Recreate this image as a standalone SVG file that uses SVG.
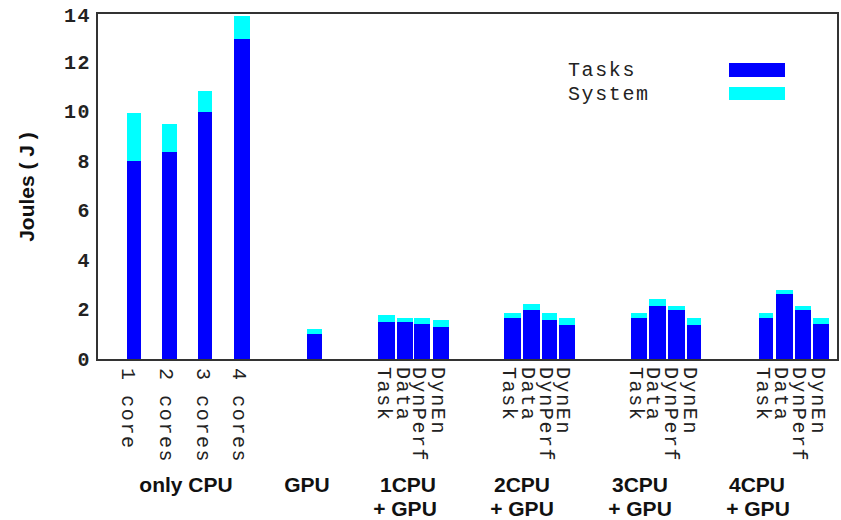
<svg xmlns="http://www.w3.org/2000/svg" width="841" height="520" viewBox="0 0 841 520">
<style>
.t{fill:#0000ff}
.s{fill:#00ffff}
.mono{font-family:"Liberation Mono","DejaVu Sans Mono",monospace;font-size:20px;letter-spacing:1.6px;fill:#222}
.tick{font-family:"Liberation Mono","DejaVu Sans Mono",monospace;font-size:20px;font-weight:bold;letter-spacing:1.5px;fill:#222;text-anchor:end}
.sans{font-family:"Liberation Sans",Arial,sans-serif;font-size:21px;font-weight:bold;fill:#111;text-anchor:middle}
</style>
<rect width="841" height="520" fill="#fff"/>
<g id="bars">
<g id="only-cpu">
<rect class="s" x="127" y="113" width="14" height="48"/><rect class="t" x="127" y="161" width="14" height="199"/>
<rect class="s" x="162" y="124" width="15" height="28"/><rect class="t" x="162" y="152" width="15" height="208"/>
<rect class="s" x="198" y="91" width="14" height="21"/><rect class="t" x="198" y="112" width="14" height="248"/>
<rect class="s" x="234" y="16" width="16" height="23"/><rect class="t" x="234" y="39" width="16" height="321"/>
</g>
<g id="gpu">
<rect class="s" x="307" y="329" width="15" height="5"/><rect class="t" x="307" y="334" width="15" height="26"/>
</g>
<g id="cpu1-gpu">
<rect class="s" x="378" y="315" width="17" height="7"/><rect class="t" x="378" y="322" width="17" height="38"/>
<rect class="s" x="397" y="318" width="16" height="4"/><rect class="t" x="397" y="322" width="16" height="38"/>
<rect class="s" x="414" y="318" width="16" height="6"/><rect class="t" x="414" y="324" width="16" height="36"/>
<rect class="s" x="433" y="320" width="16" height="7"/><rect class="t" x="433" y="327" width="16" height="33"/>
</g>
<g id="cpu2-gpu">
<rect class="s" x="504" y="313" width="17" height="5"/><rect class="t" x="504" y="318" width="17" height="42"/>
<rect class="s" x="523" y="304" width="17" height="6"/><rect class="t" x="523" y="310" width="17" height="50"/>
<rect class="s" x="542" y="313" width="15" height="7"/><rect class="t" x="542" y="320" width="15" height="40"/>
<rect class="s" x="559" y="318" width="16" height="7"/><rect class="t" x="559" y="325" width="16" height="35"/>
</g>
<g id="cpu3-gpu">
<rect class="s" x="631" y="313" width="16" height="5"/><rect class="t" x="631" y="318" width="16" height="42"/>
<rect class="s" x="649" y="299" width="17" height="7"/><rect class="t" x="649" y="306" width="17" height="54"/>
<rect class="s" x="668" y="306" width="17" height="4"/><rect class="t" x="668" y="310" width="17" height="50"/>
<rect class="s" x="687" y="318" width="14" height="7"/><rect class="t" x="687" y="325" width="14" height="35"/>
</g>
<g id="cpu4-gpu">
<rect class="s" x="759" y="313" width="14" height="5"/><rect class="t" x="759" y="318" width="14" height="42"/>
<rect class="s" x="776" y="290" width="17" height="4"/><rect class="t" x="776" y="294" width="17" height="66"/>
<rect class="s" x="795" y="306" width="16" height="4"/><rect class="t" x="795" y="310" width="16" height="50"/>
<rect class="s" x="813" y="318" width="16" height="6"/><rect class="t" x="813" y="324" width="16" height="36"/>
</g>
</g>
<g id="frame">
<rect x="97" y="13" width="741" height="347" fill="none" stroke="#333" stroke-width="2"/>
</g>
<g id="y-axis">
<text class="tick" x="91" y="22">14</text>
<text class="tick" x="91" y="69">12</text>
<text class="tick" x="91" y="118">10</text>
<text class="tick" x="91" y="168">8</text>
<text class="tick" x="91" y="217">6</text>
<text class="tick" x="91" y="267">4</text>
<text class="tick" x="91" y="316">2</text>
<text class="tick" x="91" y="366">0</text>
<text class="sans" transform="translate(34,187) rotate(-90)">Joules ( J )</text>
</g>
<g id="legend">
<text class="mono" x="568" y="76">Tasks</text>
<text class="mono" x="568" y="100">System</text>
<rect class="t" x="729" y="63" width="56" height="14"/>
<rect class="s" x="729" y="87" width="56" height="13"/>
</g>
<g id="x-labels">
<text class="mono" transform="translate(122,368) rotate(90)">1 core</text>
<text class="mono" transform="translate(160,368) rotate(90)">2 cores</text>
<text class="mono" transform="translate(197,368) rotate(90)">3 cores</text>
<text class="mono" transform="translate(233,368) rotate(90)">4 cores</text>
<text class="mono" transform="translate(378,367) rotate(90)">Task</text>
<text class="mono" transform="translate(397,367) rotate(90)">Data</text>
<text class="mono" transform="translate(413,367) rotate(90)">DynPerf</text>
<text class="mono" transform="translate(432,367) rotate(90)">DynEn</text>
<text class="mono" transform="translate(503,367) rotate(90)">Task</text>
<text class="mono" transform="translate(522,367) rotate(90)">Data</text>
<text class="mono" transform="translate(540,367) rotate(90)">DynPerf</text>
<text class="mono" transform="translate(557,367) rotate(90)">DynEn</text>
<text class="mono" transform="translate(630,367) rotate(90)">Task</text>
<text class="mono" transform="translate(647,367) rotate(90)">Data</text>
<text class="mono" transform="translate(665,367) rotate(90)">DynPerf</text>
<text class="mono" transform="translate(684,367) rotate(90)">DynEn</text>
<text class="mono" transform="translate(757,367) rotate(90)">Task</text>
<text class="mono" transform="translate(775,367) rotate(90)">Data</text>
<text class="mono" transform="translate(793,367) rotate(90)">DynPerf</text>
<text class="mono" transform="translate(812,367) rotate(90)">DynEn</text>
</g>
<g id="group-labels">
<text class="sans" x="186" y="492">only CPU</text>
<text class="sans" x="307" y="492">GPU</text>
<text class="sans" x="408" y="492">1CPU</text>
<text class="sans" x="405" y="516">+ GPU</text>
<text class="sans" x="522" y="492">2CPU</text>
<text class="sans" x="522" y="516">+ GPU</text>
<text class="sans" x="640" y="492">3CPU</text>
<text class="sans" x="640" y="516">+ GPU</text>
<text class="sans" x="757" y="492">4CPU</text>
<text class="sans" x="758" y="516">+ GPU</text>
</g>
</svg>
